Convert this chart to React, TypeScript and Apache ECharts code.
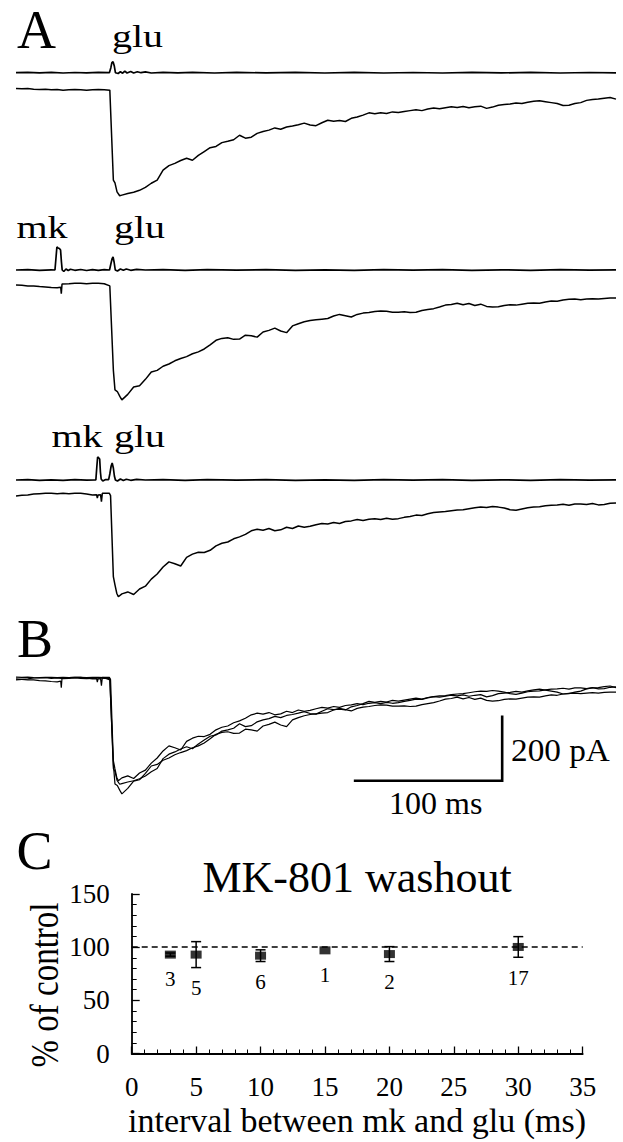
import React, { useEffect, useRef } from "react";
import * as echarts from "echarts";

// ---------- DATA ----------
// time in ms (0..408 ms sweep), current in pA (baseline = 0)
const SWEEP_MS = 408;
const DECAY_START_MS = 72;
const DECAY_STEP_MS = 4;

// Panel A, trace 1 (glu alone)
const trace1Onset = [[0,3],[4,2],[8,3],[12,1],[16,0],[20,1],[24,-1],[28,0],[32,-2],[36,-1],[40,0],[44,-1],[48,-2],[52,-1],[56,0],[60,-1],[63.8,-2],[66.2,-283],[67.3,-292],[68.7,-320],[70.5,-332]];
const trace1Decay = [-330,-325,-321,-315,-306,-293,-283,-252,-238,-231,-222,-215,-221,-206,-194,-182,-178,-166,-162,-157,-143,-152,-149,-137,-131,-127,-120,-124,-117,-114,-110,-105,-111,-113,-104,-96,-99,-97,-100,-90,-86,-80,-73,-76,-73,-75,-70,-72,-69,-66,-63,-66,-61,-58,-60,-57,-54,-56,-53,-57,-54,-52,-59,-55,-49,-47,-45,-42,-44,-40,-37,-35,-38,-41,-44,-50,-49,-44,-41,-34,-31,-30,-27,-25,-30];

// Panel A, trace 2 (mk then glu)
const trace2Onset = [[0,-3],[4,-4],[8,-6],[12,-6],[16,-8],[20,-9],[24,-11],[28,-12],[30.4,-10],[30.8,-30],[31.3,0],[36,1],[40,2],[44,2],[48,1],[52,2],[56,2],[60,1],[63.8,-6],[66.2,-269],[67.3,-331],[68.9,-336],[70.7,-352]];
const trace2Decay = [-362,-345,-322,-318,-298,-275,-270,-257,-250,-240,-233,-227,-218,-212,-203,-190,-176,-170,-168,-173,-172,-160,-162,-166,-150,-145,-138,-147,-152,-131,-124,-118,-114,-112,-110,-108,-100,-95,-99,-103,-95,-91,-89,-86,-84,-85,-88,-88,-87,-89,-88,-83,-80,-77,-72,-66,-64,-60,-65,-61,-67,-63,-70,-72,-71,-67,-65,-66,-63,-60,-59,-60,-56,-53,-54,-50,-48,-47,-49,-47,-46,-47,-45,-44,-44];

// Panel A, trace 3 (mk shortly before glu)
const trace3Onset = [[0,-6],[4,-4],[8,-3],[12,0],[16,1],[20,2],[24,2],[28,1],[32,2],[36,1],[40,2],[44,2],[48,0],[52,-3],[54.8,-2],[55.3,-13],[55.8,-3],[57.5,-2],[58.1,-24],[58.7,2],[63.5,2],[64.3,-5],[66.2,-258],[67.3,-284],[68.5,-310],[69.6,-321]];
const trace3Decay = [-312,-306,-314,-297,-288,-266,-250,-228,-212,-218,-225,-198,-188,-182,-183,-176,-162,-154,-150,-140,-134,-126,-115,-110,-113,-108,-115,-112,-104,-108,-100,-104,-101,-96,-92,-94,-89,-92,-86,-84,-80,-83,-79,-77,-80,-76,-79,-77,-73,-70,-66,-67,-62,-58,-56,-55,-52,-50,-49,-46,-43,-41,-42,-39,-41,-44,-49,-51,-47,-43,-41,-40,-37,-35,-34,-32,-35,-31,-31,-33,-30,-34,-33,-29,-28];

// Stimulus (pressure-pulse command) traces, arbitrary units
const stim1 = [[0,0],[8,0.4],[16,-0.2],[24,0.3],[32,-0.3],[40,0.2],[48,-0.2],[56,0.3],[63.5,0],[64.5,5],[65.2,10],[66,11],[66.8,7],[67.6,0],[69.5,-0.8],[71,1],[72.5,-0.5],[74,1.6],[75.5,-0.3],[78,1.2],[80,-0.3],[82.5,1],[85,0],[88,0.8],[92,-0.3],[100,0.4],[110,-0.2],[120,0.3],[135,-0.3],[150,0.3],[170,-0.2],[190,0.3],[210,-0.3],[230,0.3],[250,-0.3],[270,0.2],[290,-0.3],[310,0.3],[330,-0.2],[350,0.3],[370,-0.3],[390,0.2],[408,-0.2]];
const stim2 = [[0,0],[8,0.3],[16,-0.3],[24,0.2],[26.5,0],[27.3,14],[27.8,23],[28.6,22],[29.5,21.5],[30.3,20],[30.9,8],[31.4,0],[32.5,-1.5],[34,1],[35.5,-0.5],[37,0.8],[40,-0.3],[44,0.5],[48,-0.5],[52,0.3],[56,-0.4],[60,0.3],[63.6,0],[64.5,6],[65.3,11],[66,13],[66.7,8],[67.5,0],[69,-1],[71,1],[73,-0.3],[75,1],[78,-0.3],[82,0.6],[88,0],[100,0.4],[115,-0.3],[130,0.3],[150,-0.2],[170,0.3],[190,-0.3],[210,0.2],[230,-0.3],[250,0.3],[270,-0.2],[290,0.3],[310,-0.3],[330,0.2],[350,-0.3],[370,0.3],[390,-0.2],[408,0.2]];
const stim3 = [[0,0],[8,0.3],[16,-0.3],[24,0.2],[32,-0.3],[40,0.3],[48,-0.2],[54.3,0],[55,14],[55.5,23],[56.3,22],[56.9,21],[57.4,8],[57.9,1],[59,-1],[61,0.5],[63,0.3],[63.8,6],[64.7,14],[65.4,17],[66.2,12],[66.9,4],[67.6,0],[69,-1],[71,1],[73,-0.5],[75,0.8],[78,-0.3],[82,0.6],[88,0],[100,0.4],[115,-0.3],[130,0.3],[150,-0.2],[170,0.3],[190,-0.3],[210,0.2],[230,-0.3],[250,0.3],[270,-0.2],[290,0.3],[310,-0.3],[330,0.2],[350,-0.3],[370,0.3],[390,-0.2],[408,0.2]];

// Scale bar (panel B)
const SCALE_MS = 100;
const SCALE_PA = 200;
const scaleBarCorner = [330.6, -321]; // [ms, pA] corner of the L

// Panel C: MK-801 washout
const intervalsMs = [3, 5, 10, 15, 20, 30];
const percentOfControl = [93, 93, 92, 97, 93.5, 100.2];
const semPercent = [1.5, 12.2, 5.5, 0, 7, 9.7];
const nCells = [3, 5, 6, 1, 2, 17];
const controlLevel = 100;

// ---------- HELPERS ----------
const FONT = "'Liberation Serif', 'Times New Roman', Times, serif";

function buildTrace(onset: number[][], decay: number[]) {
  return onset.concat(decay.map((v, i) => [DECAY_START_MS + DECAY_STEP_MS * i, v]));
}

function txt(text: string, x: number, y: number, size: number, extra: any = {}) {
  const align = extra.align || "left";
  return {
    type: "text",
    x,
    y,
    rotation: extra.rotation || 0,
    scaleX: extra.scaleX || 1,
    scaleY: extra.scaleY || 1,
    silent: true,
    style: {
      text,
      fontFamily: FONT,
      fontSize: size,
      font: `${size}px ${FONT}`,
      fill: "#000",
      align,
      textAlign: align,
      verticalAlign: "middle",
      textVerticalAlign: "middle",
    },
  };
}

export default function App() {
  const ref = useRef<HTMLDivElement>(null);

  useEffect(() => {
    document.body.style.margin = "0";
    const chart = echarts.init(ref.current!, null, { renderer: "svg" });

    const traces = [
      buildTrace(trace1Onset, trace1Decay),
      buildTrace(trace2Onset, trace2Decay),
      buildTrace(trace3Onset, trace3Decay),
    ];
    const stims = [stim1, stim2, stim3];

    const L = 16, W = 600;
    const grids: any[] = [
      { left: L, top: 47.7, width: W, height: 30 },
      { left: L, top: 245, width: W, height: 30 },
      { left: L, top: 455, width: W, height: 30 },
      { left: L, top: 73.5, width: W, height: 144 },
      { left: L, top: 268, width: W, height: 144 },
      { left: L, top: 478, width: W, height: 144 },
      { left: L, top: 662, width: W, height: 144 },
      { left: 131.7, top: 894, width: 451, height: 159.5 },
    ].map((g) => ({ ...g, outerBoundsMode: "none", containLabel: false }));

    const xAxes: any[] = [];
    const yAxes: any[] = [];
    for (let i = 0; i < 7; i++) {
      xAxes.push({ gridIndex: i, type: "value", min: 0, max: SWEEP_MS, show: false });
      yAxes.push(
        i < 3
          ? { gridIndex: i, type: "value", min: -5, max: 25, show: false }
          : { gridIndex: i, type: "value", min: -400, max: 50, show: false }
      );
    }
    const axisLineC = { show: true, lineStyle: { color: "#000", width: 1.8 } };
    xAxes.push({
      gridIndex: 7, type: "value", min: 0, max: 35, interval: 5,
      axisLine: axisLineC,
      axisTick: { show: true, inside: true, length: 7, lineStyle: { color: "#000", width: 1.3 } },
      minorTick: { show: true, splitNumber: 5, length: 4, lineStyle: { color: "#000", width: 1 } },
      axisLabel: { color: "#000", fontSize: 27, fontFamily: FONT, margin: 20 },
      splitLine: { show: false },
    });
    yAxes.push({
      gridIndex: 7, type: "value", min: 0, max: 150, interval: 50,
      axisLine: axisLineC,
      axisTick: { show: true, inside: true, length: 8, lineStyle: { color: "#000", width: 1.3 } },
      minorTick: { show: true, splitNumber: 5, length: 5, lineStyle: { color: "#000", width: 1 } },
      axisLabel: { color: "#000", fontSize: 27, fontFamily: FONT, margin: 22, padding: [12, 0, 0, 0] },
      splitLine: { show: false },
    });

    const series: any[] = [];
    stims.forEach((s, i) => {
      series.push({
        type: "line", xAxisIndex: i, yAxisIndex: i, data: s, symbol: "none",
        lineStyle: { color: "#000", width: 1.7 }, silent: true, clip: false,
      });
    });
    traces.forEach((t, i) => {
      series.push({
        type: "line", xAxisIndex: 3 + i, yAxisIndex: 3 + i, data: t, symbol: "none",
        lineStyle: { color: "#000", width: 1.5 }, silent: true, clip: false,
      });
    });
    traces.forEach((t) => {
      series.push({
        type: "line", xAxisIndex: 6, yAxisIndex: 6, data: t, symbol: "none",
        lineStyle: { color: "#000", width: 1.2 }, silent: true, clip: false,
      });
    });
    // scale bar
    const [cx, cy] = scaleBarCorner;
    series.push({
      type: "line", xAxisIndex: 6, yAxisIndex: 6, symbol: "none", silent: true, clip: false,
      data: [[cx - SCALE_MS, cy], [cx, cy], [cx, cy + SCALE_PA]],
      lineStyle: { color: "#000", width: 2.6, cap: "square", join: "miter" },
    });

    // Panel C
    series.push({
      type: "scatter", xAxisIndex: 7, yAxisIndex: 7,
      data: intervalsMs.map((x, i) => [x, percentOfControl[i]]),
      symbol: "rect", symbolSize: [11, 8], itemStyle: { color: "#000" }, silent: true, z: 3,
      markLine: {
        silent: true, symbol: ["none", "none"], label: { show: false },
        lineStyle: { color: "#000", type: [6, 4], width: 1.5 },
        data: [{ yAxis: controlLevel }],
      },
    });
    series.push({
      type: "custom", xAxisIndex: 7, yAxisIndex: 7, silent: true, z: 4,
      data: intervalsMs.map((x, i) => [x, percentOfControl[i], semPercent[i], nCells[i]]),
      renderItem: (params: any, api: any) => {
        const x = api.value(0), m = api.value(1), e = api.value(2), n = api.value(3);
        const ctr = api.coord([x, m]);
        const hi = api.coord([x, m + e]);
        const lo = api.coord([x, m - e]);
        const st = { stroke: "#000", lineWidth: 1.5 };
        const children: any[] = [];
        if (e > 0) {
          children.push({ type: "line", shape: { x1: ctr[0], y1: hi[1], x2: ctr[0], y2: lo[1] }, style: st });
          children.push({ type: "line", shape: { x1: ctr[0] - 5, y1: hi[1], x2: ctr[0] + 5, y2: hi[1] }, style: st });
          children.push({ type: "line", shape: { x1: ctr[0] - 5, y1: lo[1], x2: ctr[0] + 5, y2: lo[1] }, style: st });
        }
        const labelTop = Math.max(lo[1], ctr[1] + 4) + 10;
        children.push({
          type: "text",
          style: {
            text: String(n), x: ctr[0], y: labelTop + 10.5,
            fontFamily: FONT, fontSize: 21,
            font: `21px ${FONT}`, fill: "#000",
            align: "center", textAlign: "center",
            verticalAlign: "middle", textVerticalAlign: "middle",
          },
        });
        return { type: "group", children };
      },
    });

    const graphic: any[] = [
      txt("A", 17, 30, 54),
      txt("B", 17, 639, 54),
      txt("C", 16.5, 851, 54),
      txt("glu", 112, 36, 32, { scaleX: 1.25 }),
      txt("mk", 16.5, 227.5, 32, { scaleX: 1.25 }),
      txt("glu", 114, 227.5, 32, { scaleX: 1.25 }),
      txt("mk", 51.5, 436.5, 32, { scaleX: 1.25 }),
      txt("glu", 114, 436.5, 32, { scaleX: 1.25 }),
      txt("200 pA", 511, 750.5, 32, { scaleX: 1.04 }),
      txt("100 ms", 389, 802.5, 32),
      txt("MK-801 washout", 357, 877, 44, { align: "center" }),
      txt("interval between mk and glu (ms)", 357, 1120.5, 34, { align: "center" }),
      txt("% of control", 44.5, 985, 33, { align: "center", rotation: Math.PI / 2, scaleY: 1.2 }),
    ];

    chart.setOption({
      animation: false,
      backgroundColor: "#fff",
      textStyle: { fontFamily: FONT, color: "#000" },
      grid: grids,
      xAxis: xAxes,
      yAxis: yAxes,
      series,
      graphic: { elements: graphic },
    });

    return () => chart.dispose();
  }, []);

  return <div ref={ref} style={{ width: 623, height: 1142 }} />;
}
